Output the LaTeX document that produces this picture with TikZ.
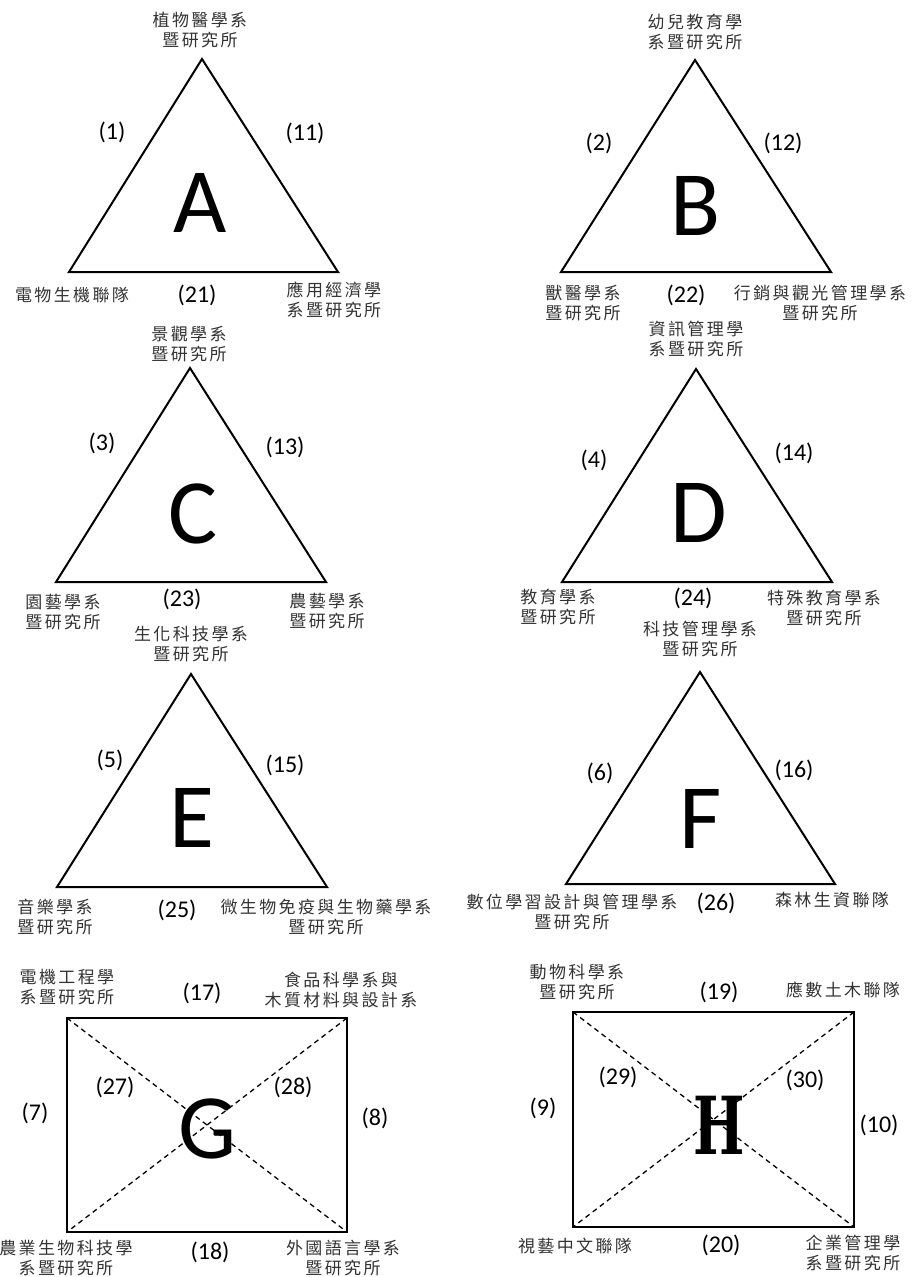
\documentclass[tikz,border=0pt]{standalone}
\usepackage{fontspec}
\setmainfont{Carlito}
\newfontfamily\cjk[LetterSpace=14]{Noto Sans CJK TC}
\newfontfamily\hfont{DejaVu Serif}
\begin{document}
\begin{tikzpicture}[x=1pt,y=-1pt,
  lab/.style={font=\cjk\fontsize{17}{20}\selectfont, align=center, text=black!80, inner sep=0pt},
  num/.style={font=\fontsize{24}{28}\selectfont, inner sep=0pt},
  big/.style={font=\fontsize{92}{100}\selectfont, anchor=base, inner sep=0pt},
  outline/.style={line width=2pt, line join=miter},
  diag/.style={line width=1.3pt, dash pattern=on 5pt off 4pt}]
\useasboundingbox (0,0) rectangle (912,1277);
\fill[white] (0,0) rectangle (912,1277);

% ---------- A ----------
\coordinate (A1) at (202,59); \coordinate (A2) at (69,272); \coordinate (A3) at (338,272);
\draw[outline] (A1) -- (A2) -- (A3) -- cycle;
\node[big] (Aletter) at (200,232) {A};
\node[lab] (Atop) at (200,30) {植物醫學系\\暨研究所};
\node[lab] (Abl) at (72,295) {電物生機聯隊};
\node[lab] (Abr) at (334,300) {應用經濟學\\系暨研究所};
\node[num] (A1n) at (112,132) {(1)};
\node[num] (A11n) at (305,133) {(11)};
\node[num] (A21n) at (197,295) {(21)};

% ---------- B ----------
\coordinate (B1) at (695,60); \coordinate (B2) at (561,272); \coordinate (B3) at (831,272);
\draw[outline] (B1) -- (B2) -- (B3) -- cycle;
\node[big] (Bletter) at (696,235) {B};
\node[lab] (Btop) at (695,32) {幼兒教育學\\系暨研究所};
\node[lab] (Bbl) at (583,303) {獸醫學系\\暨研究所};
\node[lab] (Bbr) at (820,303) {行銷與觀光管理學系\\暨研究所};
\node[num] (B2n) at (599,143) {(2)};
\node[num] (B12n) at (783,143) {(12)};
\node[num] (B22n) at (686,295) {(22)};

% ---------- C ----------
\coordinate (C1) at (190,368); \coordinate (C2) at (56,582); \coordinate (C3) at (326,582);
\draw[outline] (C1) -- (C2) -- (C3) -- cycle;
\node[big] (Cletter) at (193,543) {C};
\node[lab] (Ctop) at (189,344) {景觀學系\\暨研究所};
\node[lab] (Cbl) at (63,612) {園藝學系\\暨研究所};
\node[lab] (Cbr) at (327,611) {農藝學系\\暨研究所};
\node[num] (C3n) at (102,443) {(3)};
\node[num] (C13n) at (285,447) {(13)};
\node[num] (C23n) at (182,599) {(23)};

% ---------- D ----------
\coordinate (D1) at (696,369); \coordinate (D2) at (562,582); \coordinate (D3) at (832,582);
\draw[outline] (D1) -- (D2) -- (D3) -- cycle;
\node[big] (Dletter) at (699,542) {D};
\node[lab] (Dtop) at (696,339) {資訊管理學\\系暨研究所};
\node[lab] (Dbl) at (558,607) {教育學系\\暨研究所};
\node[lab] (Dbr) at (824,608) {特殊教育學系\\暨研究所};
\node[num] (D4n) at (594,460) {(4)};
\node[num] (D14n) at (794,453) {(14)};
\node[num] (D24n) at (693,598) {(24)};

% ---------- E ----------
\coordinate (E1) at (191,674); \coordinate (E2) at (57,887); \coordinate (E3) at (327,887);
\draw[outline] (E1) -- (E2) -- (E3) -- cycle;
\node[big] (Eletter) at (192,847) {E};
\node[lab] (Etop) at (191,644) {生化科技學系\\暨研究所};
\node[lab] (Ebl) at (55,917) {音樂學系\\暨研究所};
\node[lab] (Ebr) at (326,917) {微生物免疫與生物藥學系\\暨研究所};
\node[num] (E5n) at (110,760) {(5)};
\node[num] (E15n) at (285,765) {(15)};
\node[num] (E25n) at (177,910) {(25)};

% ---------- F ----------
\coordinate (F1) at (700,672); \coordinate (F2) at (566,884); \coordinate (F3) at (835,884);
\draw[outline] (F1) -- (F2) -- (F3) -- cycle;
\node[big] (Fletter) at (701,848) {F};
\node[lab] (Ftop) at (700,639) {科技管理學系\\暨研究所};
\node[lab] (Fbl) at (572,912) {數位學習設計與管理學系\\暨研究所};
\node[lab] (Fbr) at (832,900) {森林生資聯隊};
\node[num] (F6n) at (600,773) {(6)};
\node[num] (F16n) at (794,770) {(16)};
\node[num] (F26n) at (716,903) {(26)};

% ---------- G ----------
\coordinate (G1) at (67,1018); \coordinate (G2) at (347,1018);
\coordinate (G3) at (347,1232); \coordinate (G4) at (67,1232);
\draw[diag] (G1) -- (G3);
\draw[diag] (G2) -- (G4);
\draw[outline] (G1) -- (G2) -- (G3) -- (G4) -- cycle;
\node[big] (Gletter) at (208,1158) {G};
\node[lab] (Gtl) at (67,987) {電機工程學\\系暨研究所};
\node[lab] (Gtr) at (341,990) {食品科學系與\\木質材料與設計系};
\node[lab] (Gbl) at (66,1258) {農業生物科技學\\系暨研究所};
\node[lab] (Gbr) at (343,1258) {外國語言學系\\暨研究所};
\node[num] (G17n) at (202,993) {(17)};
\node[num] (G18n) at (210,1252) {(18)};
\node[num] (G7n) at (35,1113) {(7)};
\node[num] (G8n) at (375,1118) {(8)};
\node[num] (G27n) at (115,1087) {(27)};
\node[num] (G28n) at (293,1087) {(28)};

% ---------- H ----------
\coordinate (H1) at (573,1012); \coordinate (H2) at (854,1012);
\coordinate (H3) at (854,1227); \coordinate (H4) at (573,1227);
\draw[diag] (H1) -- (H3);
\draw[diag] (H2) -- (H4);
\draw[outline] (H1) -- (H2) -- (H3) -- (H4) -- cycle;
\node[anchor=base, inner sep=0pt, xscale=0.68, font=\hfont\bfseries\fontsize{80}{90}\selectfont] (Hletter) at (719,1154) {H};
\node[lab] (Htl) at (577,982) {動物科學系\\暨研究所};
\node[lab] (Htr) at (843,990) {應數土木聯隊};
\node[lab] (Hbl) at (575,1246) {視藝中文聯隊};
\node[lab] (Hbr) at (853,1253) {企業管理學\\系暨研究所};
\node[num] (H19n) at (719,992) {(19)};
\node[num] (H20n) at (721,1245) {(20)};
\node[num] (H9n) at (543,1108) {(9)};
\node[num] (H10n) at (879,1125) {(10)};
\node[num] (H29n) at (618,1077) {(29)};
\node[num] (H30n) at (805,1080) {(30)};
\end{tikzpicture}
\end{document}
